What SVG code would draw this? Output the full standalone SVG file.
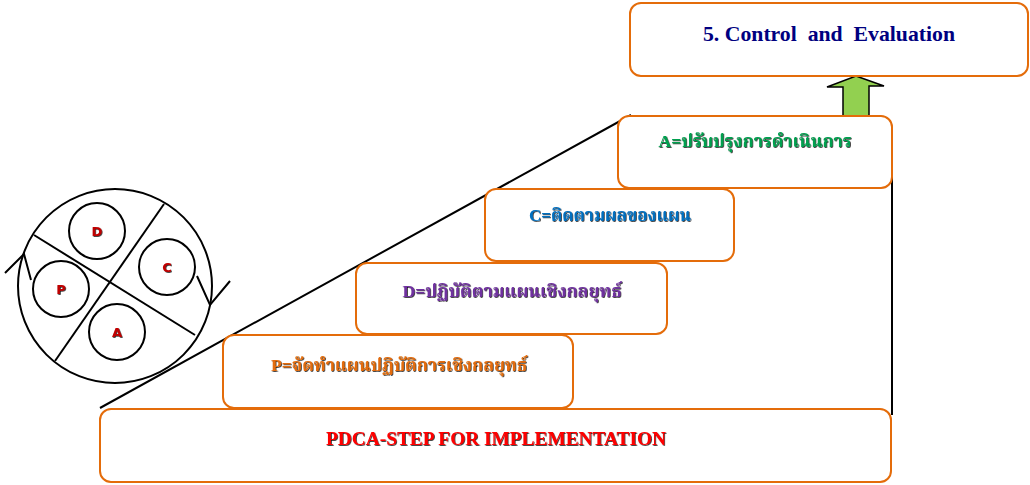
<svg xmlns="http://www.w3.org/2000/svg" width="1030" height="485" viewBox="0 0 1030 485">
<defs>
<filter id="sh" x="-5%" y="-20%" width="110%" height="140%">
<feDropShadow dx="0.8" dy="0.8" stdDeviation="0" flood-color="#000" flood-opacity="0.9"/>
</filter>
</defs>
<style>
.box{fill:#fff;stroke:#E46C0A;stroke-width:2}
.ln{stroke:#000;stroke-width:2;fill:none}
.t{font-family:"Liberation Serif","DejaVu Serif","Noto Serif Thai","Noto Sans Thai",serif;font-weight:bold;text-anchor:middle}
.c{fill:none;stroke:#000;stroke-width:2}
.cl{font-family:"DejaVu Sans","Liberation Sans",sans-serif;font-weight:bold;font-size:13px;fill:#C00000;text-anchor:middle;filter:url(#sh)}
</style>
<rect width="1030" height="485" fill="#fff"/>
<g id="connectors">
<line class="ln" x1="100" y1="408" x2="631" y2="115"/>
<line class="ln" x1="892" y1="141" x2="892" y2="415"/>
<path d="M856,76 L884,86 L869,86 L869,116 L843,116 L843,87 L827,87 Z" fill="#92D050" stroke="#000" stroke-width="1.5" stroke-linejoin="miter"/>
</g>
<g id="pdca-wheel">
<circle class="c" cx="115" cy="286" r="97"/>
<line class="c" x1="164" y1="204" x2="55" y2="361"/>
<line class="c" x1="34" y1="235" x2="195" y2="335"/>
<circle class="c" cx="97" cy="231" r="28"/>
<circle class="c" cx="167" cy="267" r="28"/>
<circle class="c" cx="61" cy="289" r="28"/>
<circle class="c" cx="117" cy="332" r="28"/>
<polyline class="c" points="5,273 24,254 31,280"/>
<polyline class="c" points="197,276 210,305 230,281"/>
<text class="cl" x="97" y="236">D</text>
<text class="cl" x="167" y="272">C</text>
<text class="cl" x="61" y="294">P</text>
<text class="cl" x="117" y="337">A</text>
</g>
<g id="node-control">
<rect class="box" x="630" y="3" width="398" height="73" rx="11"/>
<text class="t" x="829" y="41" font-size="21" fill="#000080" textLength="252" lengthAdjust="spacingAndGlyphs" xml:space="preserve" style="white-space:pre">5. Control  and  Evaluation</text>
</g>
<g id="node-a">
<rect class="box" x="618" y="116" width="274" height="72" rx="11"/>
<text class="t" x="755" y="147" font-size="17.5" fill="#00A050" filter="url(#sh)" textLength="193" lengthAdjust="spacingAndGlyphs">A=ปรับปรุงการดำเนินการ</text>
</g>
<g id="node-c">
<rect class="box" x="485" y="189" width="249" height="72" rx="11"/>
<text class="t" x="610" y="221" font-size="17.5" fill="#0070C0" filter="url(#sh)" textLength="162" lengthAdjust="spacingAndGlyphs">C=ติดตามผลของแผน</text>
</g>
<g id="node-d">
<rect class="box" x="356" y="263" width="311" height="71" rx="11"/>
<text class="t" x="512" y="297" font-size="17.5" fill="#7030A0" filter="url(#sh)" textLength="219" lengthAdjust="spacingAndGlyphs">D=ปฏิบัติตามแผนเชิงกลยุทธ์</text>
</g>
<g id="node-p">
<rect class="box" x="223" y="335" width="350" height="73" rx="11"/>
<text class="t" x="399" y="371" font-size="17.5" fill="#E46C0A" filter="url(#sh)" textLength="256" lengthAdjust="spacingAndGlyphs">P=จัดทำแผนปฏิบัติการเชิงกลยุทธ์</text>
</g>
<g id="node-pdca">
<rect class="box" x="100" y="409" width="791" height="73" rx="11"/>
<text class="t" x="496" y="445" font-size="18" fill="#FF0000" filter="url(#sh)" textLength="340" lengthAdjust="spacingAndGlyphs">PDCA-STEP FOR IMPLEMENTATION</text>
</g>
</svg>
